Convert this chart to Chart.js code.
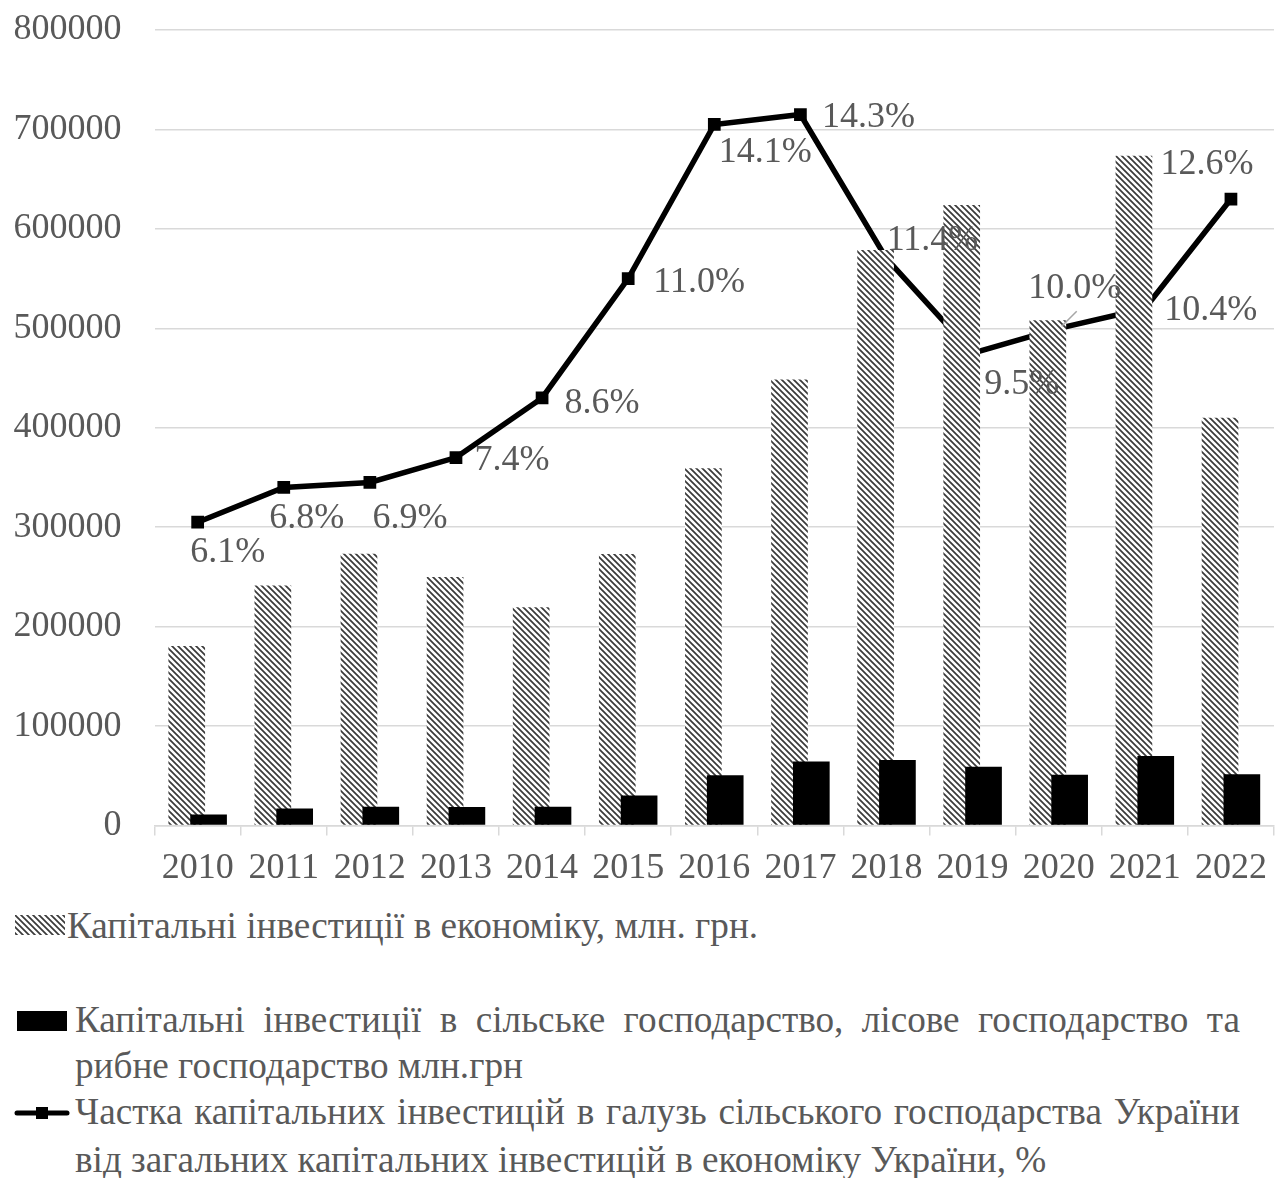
<!DOCTYPE html>
<html>
<head>
<meta charset="utf-8">
<script src="https://cdn.jsdelivr.net/npm/chart.js@4.4.1/dist/chart.umd.min.js"></script>
<style>
  html, body { margin: 0; padding: 0; background: #fff; overflow: hidden; }
  body { width: 1276px; height: 1178px; position: relative;
         font-family: "Liberation Serif", Tinos, "Times New Roman", serif; color: #595959; }
  #wrap { position: absolute; left: 0; top: 0; width: 1283px; height: 900px; }
  .ln { position: absolute; font-size: 37.2px; line-height: 40px; white-space: nowrap; }
  .just { text-align: justify; text-align-last: justify; white-space: normal; }
  .sw { position: absolute; }
</style>
</head>
<body>
<div id="wrap"><canvas id="chart"></canvas></div>

<canvas class="sw" id="swHatch" width="50" height="20" style="left:15px;top:915px;"></canvas>
<div class="ln" style="left:67px;top:906px;">Капітальні інвестиції в економіку, млн. грн.</div>

<div class="sw" style="left:17px;top:1011px;width:50px;height:20px;background:#000;"></div>
<div class="ln just" style="left:75px;top:1000px;width:1165px;">Капітальні інвестиції в сільське господарство, лісове господарство та</div>
<div class="ln" style="left:75px;top:1046px;">рибне господарство млн.грн</div>

<canvas class="sw" id="swLine" width="58" height="20" style="left:13px;top:1103px;"></canvas>
<div class="ln just" style="left:75px;top:1092px;width:1165px;">Частка капітальних інвестицій в галузь сільського господарства України</div>
<div class="ln" style="left:75px;top:1140px;">від загальних капітальних інвестицій в економіку України, %</div>

<script>
// Years on the category axis
const years = ['2010', '2011', '2012', '2013', '2014', '2015', '2016',
               '2017', '2018', '2019', '2020', '2021', '2022'];

// Capital investment in the whole economy, mln UAH
const totalInvest = [180576, 241286, 273256, 249873, 219420, 273116, 359216,
                     448462, 578726, 623976, 508140, 673585, 410000];

// Capital investment in agriculture, forestry and fishing, mln UAH
const agriInvest = [11031, 17039, 18883, 18595, 18796, 30155, 50484,
                    64243, 65834, 59014, 50939, 70000, 51500];

// Share of agriculture in total capital investment, %
const agriShare = [6.1, 6.8, 6.9, 7.4, 8.6, 11.0, 14.1,
                   14.3, 11.4, 9.5, 10.0, 10.4, 12.6];

// Left axis tick settings
const yMax = 800000;
const yStep = 100000;
const shareMax = 16;

// Where each percentage label sits relative to its point (dx, dy in px)
const labelPlacement = [
  [30, 30], [23, 31], [40, 36], [56, 3], [60, 6], [71, 4], [51, 28],
  [68, 3], [46, -18], [49, 31], [16, -40], [66, 2], [-24, -34]
];
// Labels that get a leader line back to their point
const leaderLabels = [10];

const FONT = '"Liberation Serif", Tinos, "Times New Roman", serif';
const TEXT = '#595959';
const GRID = '#d9d9d9';

// Diagonal hatch used for the total-investment bars
function makeHatch(ctx) {
  const s = 6;
  const c = document.createElement('canvas');
  c.width = s; c.height = s;
  const g = c.getContext('2d');
  g.fillStyle = '#fff';
  g.fillRect(0, 0, s, s);
  g.strokeStyle = '#3a3a3a';
  g.lineWidth = 1.7;
  g.beginPath();
  g.moveTo(-1, -1); g.lineTo(s + 1, s + 1);
  g.moveTo(s - 1, -1); g.lineTo(s + 1, 1);
  g.moveTo(-1, s - 1); g.lineTo(1, s + 1);
  g.stroke();
  return ctx.createPattern(c, 'repeat');
}

const canvas = document.getElementById('chart');
const hatch = makeHatch(canvas.getContext('2d'));

// Legend swatches
(function () {
  const h = document.getElementById('swHatch').getContext('2d');
  h.fillStyle = makeHatch(h);
  h.fillRect(0, 0, 50, 20);
  const l = document.getElementById('swLine').getContext('2d');
  l.strokeStyle = '#000';
  l.lineWidth = 5;
  l.lineCap = 'round';
  l.beginPath(); l.moveTo(4, 10); l.lineTo(54, 10); l.stroke();
  l.fillStyle = '#000';
  l.fillRect(23, 4, 12, 12);
})();

// Black bars overlap the hatched ones, so they are painted after them
const agriOnTop = {
  id: 'agriOnTop',
  beforeDatasetDraw(chart, args) {
    if (args.index === 1) return false;
  },
  afterDatasetsDraw(chart) {
    const meta = chart.getDatasetMeta(1);
    const ctx = chart.ctx;
    ctx.save();
    meta.data.forEach(el => el.draw(ctx));
    ctx.restore();
  }
};

// Percentage labels next to the line markers
const shareLabels = {
  id: 'shareLabels',
  afterDraw(chart) {
    const ctx = chart.ctx;
    const meta = chart.getDatasetMeta(2);
    ctx.save();
    ctx.font = '36px ' + FONT;
    ctx.fillStyle = TEXT;
    ctx.textAlign = 'center';
    ctx.textBaseline = 'middle';
    meta.data.forEach((pt, i) => {
      const [dx, dy] = labelPlacement[i];
      const tx = pt.x + dx, ty = pt.y + dy;
      if (leaderLabels.includes(i)) {
        ctx.strokeStyle = '#a6a6a6';
        ctx.lineWidth = 1.5;
        ctx.beginPath();
        ctx.moveTo(tx + 2, ty + 23);
        ctx.lineTo(pt.x + 3, pt.y - 2);
        ctx.stroke();
      }
      ctx.fillText(agriShare[i].toFixed(1) + '%', tx, ty);
    });
    ctx.restore();
  }
};

new Chart(canvas, {
  data: {
    labels: years,
    datasets: [
      {
        type: 'bar',
        label: 'Капітальні інвестиції в економіку, млн. грн.',
        data: totalInvest,
        backgroundColor: hatch,
        borderWidth: 0,
        categoryPercentage: 0.507,
        barPercentage: 1.68,
        yAxisID: 'y'
      },
      {
        type: 'bar',
        label: 'Капітальні інвестиції в сільське господарство, лісове господарство та рибне господарство млн.грн',
        data: agriInvest,
        backgroundColor: '#000',
        borderWidth: 0,
        categoryPercentage: 0.507,
        barPercentage: 1.68,
        yAxisID: 'y'
      },
      {
        type: 'line',
        label: 'Частка капітальних інвестицій в галузь сільського господарства України від загальних капітальних інвестицій в економіку України, %',
        data: agriShare,
        borderColor: '#000',
        borderWidth: 5.5,
        backgroundColor: '#000',
        pointStyle: 'rect',
        pointRadius: 9,
        pointBorderWidth: 0,
        tension: 0,
        yAxisID: 'y1'
      }
    ]
  },
  options: {
    responsive: true,
    maintainAspectRatio: false,
    animation: false,
    devicePixelRatio: 1,
    layout: { padding: { top: 30, right: 0, left: 0, bottom: 0 } },
    plugins: {
      legend: { display: false },
      tooltip: { enabled: false }
    },
    scales: {
      x: {
        offset: true,
        grid: { offset: true, drawOnChartArea: false, color: GRID, lineWidth: 1.5, tickLength: 10 },
        border: { color: GRID, width: 1.5 },
        ticks: { font: { family: FONT, size: 36 }, color: TEXT, padding: 11, maxRotation: 0, autoSkip: false },
        afterFit(s) { s.height = 74.5; }
      },
      y: {
        min: 0, max: yMax,
        ticks: { stepSize: yStep, font: { family: FONT, size: 36 }, color: TEXT, padding: 33,
                 callback: v => String(v) },
        grid: { color: GRID, lineWidth: 1.5, drawTicks: false },
        border: { display: false },
        afterFit(s) { s.width = 154.6; s.paddingTop = 0; s.paddingBottom = 0; }
      },
      y1: {
        display: false,
        min: 0, max: shareMax
      }
    }
  },
  plugins: [agriOnTop, shareLabels]
});
</script>
</body>
</html>
